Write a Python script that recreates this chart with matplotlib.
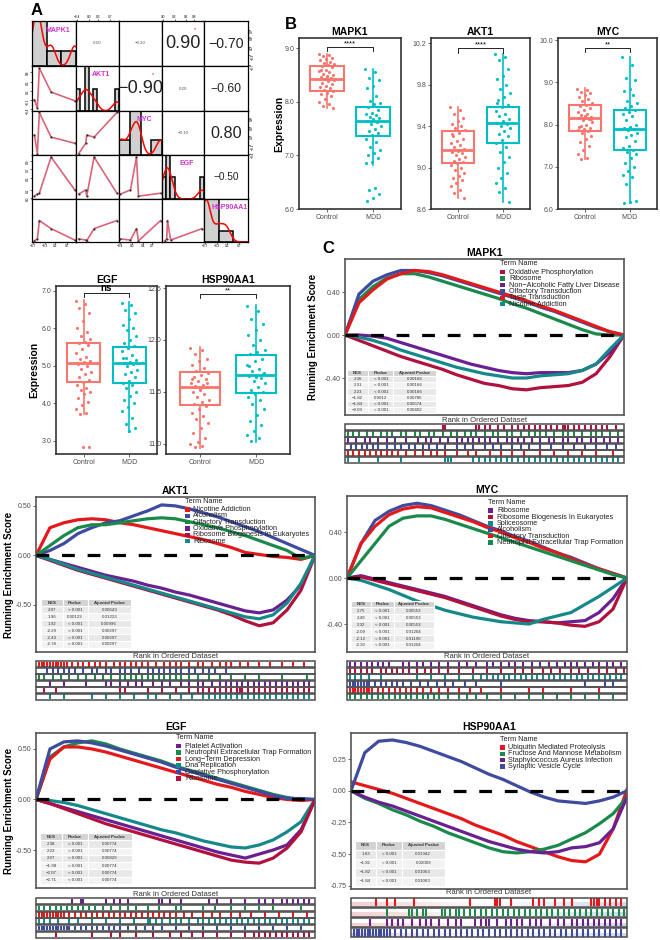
"""
Hub-gene figure: correlation matrix (A), expression boxplots (B) and GSEA
running enrichment curves (C) for MAPK1 / AKT1 / MYC / EGF / HSP90AA1.
"""

import numpy as np
import matplotlib
matplotlib.use('Agg')
import matplotlib.pyplot as plt
from matplotlib.patches import Rectangle
from matplotlib.colors import LinearSegmentedColormap

plt.rcParams['font.family'] = ['Liberation Sans', 'DejaVu Sans']

# --- PANEL A DATA (5 samples per gene) ---
A_GENES = ['MAPK1', 'AKT1', 'MYC', 'EGF', 'HSP90AA1']
A_MAPK1 = [-0.65, -0.53, -0.45, 0.03, 1.00]
A_AKT1 = [-0.09, -0.36, 0.93, 0.16, -0.12]
A_MYC = [0.23, -0.40, 1.00, 0.16, -0.05]
A_EGF = [0.05, 0.10, 0.12, 1.00, 0.20]
A_HSP = [-0.70, -0.62, 0.15, -0.19, -0.67]
A_LIMS = [(-0.75, 1.05), (-0.45, 1.0), (-0.45, 1.05), (-0.02, 1.05), (-0.75, 1.05)]
A_BINS = [3, 10, 4, 10, 3]
# upper triangle, row-major
CORR_R = [0.10, -0.20, 0.90, -0.70, -0.90, 0.20, -0.60, -0.10, 0.80, -0.50]

# --- PANEL B DATA ---
BOX_GENES = ['MAPK1', 'AKT1', 'MYC', 'EGF', 'HSP90AA1']
CTRL_MED = [8.42, 9.17, 8.16, 5.08, 11.55]
CTRL_Q1 = [8.21, 9.04, 7.85, 4.58, 11.37]
CTRL_Q3 = [8.66, 9.35, 8.46, 5.62, 11.69]
CTRL_LO = [7.88, 8.71, 7.18, 3.73, 10.96]
CTRL_HI = [8.90, 9.58, 8.86, 6.75, 11.93]
MDD_MED = [7.65, 9.43, 7.89, 5.08, 11.66]
MDD_Q1 = [7.36, 9.24, 7.39, 4.55, 11.49]
MDD_Q3 = [7.90, 9.58, 8.34, 5.51, 11.85]
MDD_LO = [6.82, 8.67, 6.15, 3.24, 11.02]
MDD_HI = [8.62, 10.10, 9.60, 6.71, 12.34]
SIG_LABELS = ['****', '****', '**', 'ns', '**']

MAPK1_CTRL = [8.90, 8.88, 8.85, 8.82, 8.80, 8.78, 8.75, 8.72, 8.70, 8.68, 8.66, 8.64, 8.60, 8.57,
              8.55, 8.52, 8.50, 8.48, 8.46, 8.44, 8.42, 8.40, 8.38, 8.35, 8.33, 8.30, 8.27, 8.25,
              8.22, 8.20, 8.17, 8.14, 8.10, 8.05, 8.00, 7.95, 7.92, 7.88, 8.45, 8.60]
MAPK1_MDD = [8.62, 8.55, 8.45, 8.40, 8.30, 8.25, 8.10, 8.02, 7.98, 7.95, 7.90, 7.85, 7.80, 7.78,
             7.75, 7.72, 7.70, 7.67, 7.65, 7.62, 7.58, 7.55, 7.50, 7.45, 7.42, 7.38, 7.30, 7.25,
             7.15, 7.10, 7.05, 7.00, 6.95, 6.88, 6.85, 6.40, 6.35, 6.28, 6.20, 6.15]
AKT1_CTRL = [9.58, 9.56, 9.52, 9.48, 9.45, 9.42, 9.40, 9.38, 9.36, 9.33, 9.30, 9.28, 9.26, 9.24,
             9.22, 9.20, 9.18, 9.17, 9.15, 9.14, 9.12, 9.10, 9.08, 9.06, 9.05, 9.04, 9.02, 9.00,
             8.98, 8.95, 8.92, 8.90, 8.88, 8.85, 8.82, 8.78, 8.75, 8.71, 9.16, 9.32]
AKT1_MDD = [10.10, 10.07, 10.04, 9.95, 9.88, 9.85, 9.80, 9.76, 9.72, 9.68, 9.65, 9.60, 9.58, 9.55,
            9.52, 9.50, 9.47, 9.45, 9.43, 9.42, 9.40, 9.38, 9.35, 9.32, 9.30, 9.27, 9.24, 9.20,
            9.15, 9.10, 9.05, 9.00, 8.95, 8.90, 8.85, 8.80, 8.76, 8.67, 9.44, 9.62]
MYC_CTRL = [8.85, 8.82, 8.78, 8.75, 8.70, 8.65, 8.60, 8.55, 8.50, 8.47, 8.44, 8.40, 8.35, 8.30,
            8.26, 8.22, 8.18, 8.16, 8.15, 8.12, 8.10, 8.05, 8.00, 7.97, 7.93, 7.90, 7.88, 7.85,
            7.80, 7.72, 7.65, 7.58, 7.50, 7.40, 7.30, 7.20, 7.18, 8.13, 8.20, 7.95]
MYC_MDD = [9.60, 9.40, 9.10, 9.05, 8.85, 8.80, 8.70, 8.55, 8.50, 8.45, 8.40, 8.35, 8.30, 8.25,
           8.20, 8.10, 8.00, 7.95, 7.92, 7.90, 7.88, 7.80, 7.75, 7.70, 7.60, 7.50, 7.45, 7.40,
           7.35, 7.30, 7.20, 7.10, 7.00, 6.90, 6.80, 6.75, 6.60, 6.20, 6.17, 6.15]
EGF_CTRL = [6.72, 6.65, 6.55, 6.40, 6.20, 6.00, 5.90, 5.80, 5.72, 5.65, 5.60, 5.55, 5.45, 5.35,
            5.25, 5.18, 5.12, 5.10, 5.05, 5.00, 4.92, 4.85, 4.78, 4.70, 4.62, 4.58, 4.50, 4.42,
            4.35, 4.30, 4.25, 4.15, 4.05, 3.95, 3.85, 3.75, 3.73, 2.85, 2.85, 5.08]
EGF_MDD = [6.68, 6.62, 6.50, 6.40, 6.25, 6.10, 6.00, 5.95, 5.80, 5.70, 5.60, 5.52, 5.48, 5.40,
           5.30, 5.22, 5.15, 5.10, 5.08, 5.05, 5.00, 4.90, 4.85, 4.78, 4.70, 4.60, 4.55, 4.50,
           4.40, 4.30, 4.20, 4.10, 4.00, 3.90, 3.80, 3.60, 3.45, 3.35, 3.26, 5.20]
HSP_CTRL = [11.92, 11.90, 11.86, 11.82, 11.80, 11.76, 11.73, 11.70, 11.68, 11.66, 11.64, 11.62,
            11.60, 11.58, 11.57, 11.56, 11.55, 11.53, 11.50, 11.48, 11.45, 11.42, 11.40, 11.38,
            11.36, 11.33, 11.30, 11.27, 11.24, 11.20, 11.15, 11.10, 11.05, 11.02, 11.00, 10.98,
            10.97, 11.58, 11.52, 11.62]
HSP_MDD = [12.33, 12.28, 12.20, 12.15, 12.10, 12.05, 12.00, 11.95, 11.90, 11.88, 11.86, 11.82,
           11.80, 11.76, 11.72, 11.70, 11.68, 11.66, 11.65, 11.63, 11.60, 11.58, 11.55, 11.52,
           11.50, 11.48, 11.45, 11.42, 11.38, 11.33, 11.28, 11.22, 11.18, 11.12, 11.08, 11.05,
           11.03, 11.67, 11.64, 11.75]

# --- PANEL C DATA ---
RANK_X = np.linspace(0, 1, 21)   # running-score sample positions along the ranked list

C_RED, C_CRIM, C_GREEN = '#E4191C', '#B0123D', '#1A8A4C'
C_PURP, C_BLUE, C_TEAL = '#6A2090', '#3F4B9E', '#15898A'

MAPK1_TERMS = ['Oxidative Phosphorylation', 'Ribosome', 'Non\u2212Alcoholic Fatty Liver Disease',
               'Olfactory Transduction', 'Taste Transduction', 'Nicotine Addiction']
MAPK1_COLORS = [C_CRIM, C_GREEN, C_PURP, C_BLUE, C_RED, C_TEAL]
MAPK1_ES = [
    [0, -0.05, -0.10, -0.15, -0.20, -0.24, -0.28, -0.32, -0.37, -0.41, -0.45, -0.47, -0.50, -0.51, -0.49, -0.48, -0.47, -0.44, -0.36, -0.20, 0],
    [0, 0.33, 0.45, 0.53, 0.57, 0.57, 0.54, 0.50, 0.46, 0.42, 0.38, 0.34, 0.29, 0.25, 0.20, 0.15, 0.10, 0.05, 0.01, 0.00, 0],
    [0, 0, -0.01, -0.03, -0.07, -0.11, -0.15, -0.19, -0.23, -0.27, -0.30, -0.33, -0.35, -0.36, -0.35, -0.35, -0.35, -0.33, -0.27, -0.16, 0],
    [0, 0.38, 0.50, 0.56, 0.60, 0.60, 0.58, 0.55, 0.51, 0.47, 0.43, 0.39, 0.35, 0.31, 0.26, 0.22, 0.17, 0.12, 0.07, 0.03, 0],
    [0, 0.30, 0.42, 0.52, 0.57, 0.60, 0.59, 0.56, 0.52, 0.48, 0.44, 0.40, 0.36, 0.32, 0.27, 0.23, 0.18, 0.13, 0.08, 0.03, 0],
    [0, -0.02, -0.05, -0.09, -0.14, -0.18, -0.22, -0.26, -0.30, -0.33, -0.36, -0.38, -0.40, -0.40, -0.38, -0.37, -0.36, -0.33, -0.27, -0.13, 0],
]
MAPK1_NES = ['2.36', '2.31', '2.23', '\u22121.82', '\u22121.84', '\u22122.03']
MAPK1_P = ['< 0.001', '< 0.001', '< 0.001', '0.0012', '< 0.001', '< 0.001']
MAPK1_PADJ = ['0.00166', '0.00166', '0.00166', '0.00785', '0.00574', '0.00402']
MAPK1_HITS = [
    [35, 36, 47, 48, 50, 52, 55, 57, 60, 62, 64, 66, 68, 70, 72, 74, 76, 78, 79, 80, 82, 84, 86, 88, 90, 92, 94, 97],
    [1, 3, 5, 8, 10, 13, 15, 17, 20, 22, 25, 27, 30, 32, 35, 38, 40, 43, 45, 47, 50, 53, 55, 58, 60, 63, 66, 68, 70, 72, 75, 78, 80, 82, 85, 88, 90, 92, 95, 98],
    [1, 4, 7, 9, 12, 15, 18, 22, 26, 29, 31, 34, 37, 40, 42, 44, 46, 48, 50, 52, 55, 58, 60, 62, 64, 67, 70, 73, 75, 78, 80, 83, 85, 88, 90, 93, 95, 98],
    [2, 4, 6, 8, 10, 12, 15, 18, 20, 23, 25, 28, 30, 33, 36, 40, 43, 46, 50, 53, 56, 60, 63, 66, 70, 74, 78, 82, 86, 90, 94, 97],
    [1, 3, 5, 7, 9, 11, 13, 15, 17, 19, 22, 25, 28, 31, 33, 36, 40, 44, 47, 52, 56, 60, 64, 70, 75, 80, 85, 90, 96],
    [1, 5, 12, 20, 36, 37, 38, 46, 48, 50, 52, 54, 56, 58, 60, 62, 64, 66, 68, 70, 72, 74, 76, 78, 80, 82, 84, 86, 88, 90, 92, 94, 96, 98],
]

AKT1_TERMS = ['Nicotine Addiction', 'Alcoholism', 'Olfactory Transduction', 'Oxidative Phosphorylation',
              'Ribosome Biogenesis In Eukaryotes', 'Ribosome']
AKT1_COLORS = [C_RED, C_BLUE, C_GREEN, C_PURP, C_CRIM, C_TEAL]
AKT1_ES = [
    [0, 0.28, 0.33, 0.36, 0.37, 0.36, 0.33, 0.31, 0.28, 0.25, 0.22, 0.19, 0.16, 0.12, 0.08, 0.03, 0.01, -0.01, -0.02, -0.04, 0],
    [0, 0.05, 0.12, 0.22, 0.28, 0.33, 0.35, 0.40, 0.45, 0.51, 0.50, 0.47, 0.43, 0.39, 0.34, 0.29, 0.24, 0.18, 0.12, 0.06, 0],
    [0, 0.10, 0.20, 0.28, 0.31, 0.31, 0.33, 0.35, 0.37, 0.38, 0.37, 0.34, 0.31, 0.28, 0.24, 0.20, 0.15, 0.10, 0.05, -0.03, 0],
    [0, -0.04, -0.08, -0.12, -0.16, -0.20, -0.23, -0.26, -0.30, -0.33, -0.37, -0.40, -0.44, -0.48, -0.52, -0.56, -0.58, -0.55, -0.45, -0.30, 0],
    [0, -0.05, -0.10, -0.15, -0.19, -0.23, -0.27, -0.31, -0.35, -0.39, -0.43, -0.47, -0.51, -0.55, -0.60, -0.66, -0.71, -0.68, -0.55, -0.35, 0],
    [0, -0.04, -0.09, -0.14, -0.18, -0.22, -0.26, -0.30, -0.34, -0.38, -0.42, -0.46, -0.50, -0.54, -0.58, -0.62, -0.64, -0.60, -0.48, -0.28, 0],
]
AKT1_NES = ['2.07', '1.96', '1.92', '-2.29', '-2.43', '-2.78']
AKT1_P = ['< 0.001', '0.00123', '< 0.001', '< 0.001', '< 0.001', '< 0.001']
AKT1_PADJ = ['0.00643', '0.01223', '0.00996', '0.00297', '0.00297', '0.00297']
AKT1_HITS = [
    [1, 2, 3, 4, 5, 6, 7, 8, 9, 10, 11, 13, 15, 17, 19, 21, 23, 25, 28, 30, 32, 34, 36, 38, 40, 43, 46, 48, 50, 52, 55, 58, 60, 63, 66, 68, 70, 73, 76, 80, 84, 88, 92, 96],
    [4, 6, 8, 10, 12, 14, 17, 20, 22, 25, 27, 30, 32, 34, 37, 40, 42, 44, 46, 48, 50, 52, 55, 57, 60, 62, 64, 68],
    [1, 3, 6, 9, 12, 15, 18, 21, 24, 27, 30, 32, 34, 36, 38, 40, 42, 44, 46, 48, 50, 52, 55, 58, 62, 66, 70, 75, 80, 88, 97],
    [5, 10, 18, 25, 27, 30, 33, 36, 38, 42, 45, 48, 52, 55, 58, 60, 63, 66, 68, 70, 72, 74, 76, 78, 80, 82, 84, 86, 88, 90, 92, 94, 96, 98],
    [3, 7, 30, 32, 40, 45, 50, 55, 58, 60, 62, 64, 66, 68, 70, 72, 73, 74, 76, 78, 80, 82, 84, 86, 88, 90, 92, 94, 96, 98],
    [5, 10, 20, 25, 30, 35, 40, 43, 48, 52, 56, 60, 62, 64, 66, 68, 70, 72, 74, 76, 78, 80, 82, 84, 86, 88, 90, 92, 94, 96, 98],
]

MYC_TERMS = ['Ribosome', 'Ribosome Biogenesis In Eukaryotes', 'Spliceosome', 'Alcoholism',
             'Olfactory Transduction', 'Neutrophil Extracellular Trap Formation']
MYC_COLORS = [C_PURP, C_CRIM, C_TEAL, C_BLUE, C_RED, C_GREEN]
MYC_ES = [
    [0, 0.02, -0.01, -0.04, -0.07, -0.10, -0.13, -0.16, -0.20, -0.24, -0.28, -0.32, -0.35, -0.37, -0.38, -0.39, -0.38, -0.37, -0.30, -0.18, 0],
    [0, 0.01, -0.02, -0.05, -0.08, -0.11, -0.14, -0.17, -0.21, -0.25, -0.29, -0.33, -0.36, -0.38, -0.38, -0.39, -0.41, -0.42, -0.38, -0.27, 0],
    [0, -0.02, -0.06, -0.10, -0.15, -0.20, -0.24, -0.28, -0.31, -0.34, -0.36, -0.38, -0.39, -0.40, -0.36, -0.33, -0.30, -0.23, -0.16, -0.08, 0],
    [0, 0.30, 0.50, 0.58, 0.63, 0.65, 0.63, 0.59, 0.55, 0.50, 0.45, 0.41, 0.36, 0.32, 0.27, 0.22, 0.18, 0.13, 0.08, 0.04, 0],
    [0, 0.30, 0.45, 0.55, 0.60, 0.62, 0.61, 0.57, 0.53, 0.49, 0.44, 0.40, 0.35, 0.31, 0.26, 0.22, 0.17, 0.12, 0.08, 0.04, 0],
    [0, 0.15, 0.30, 0.45, 0.52, 0.54, 0.54, 0.51, 0.47, 0.43, 0.39, 0.35, 0.31, 0.27, 0.23, 0.19, 0.15, 0.11, 0.07, 0.03, 0],
]
MYC_NES = ['2.75', '2.49', '2.32', '-2.09', '-2.12', '-2.30']
MYC_P = ['< 0.001'] * 6
MYC_PADJ = ['0.00553', '0.00553', '0.00553', '0.01204', '0.01190', '0.01204']
MYC_HITS = [
    [1, 3, 5, 7, 9, 11, 13, 15, 20, 22, 25, 27, 30, 33, 36, 40, 43, 46, 50, 52, 55, 58, 60, 63, 66, 69, 72, 75, 78, 80, 82, 85, 88, 90, 93, 95, 98],
    [1, 3, 5, 7, 9, 12, 14, 16, 18, 20, 22, 25, 28, 30, 33, 36, 40, 45, 50, 55, 60, 63, 66, 70, 73, 76, 80, 83, 86, 90, 93, 96, 99],
    [1, 3, 5, 8, 12, 25, 30, 35, 40, 45, 48, 50, 52, 54, 56, 58, 60, 62, 64, 66, 68, 70, 72, 74, 76, 78, 80, 82, 84, 86, 88, 90, 92, 94, 96, 98],
    [1, 2, 3, 4, 5, 6, 7, 8, 10, 12, 14, 16, 18, 20, 23, 26, 29, 32, 35, 38, 42, 46, 55, 85, 92, 95],
    [1, 2, 3, 4, 5, 6, 7, 8, 9, 11, 13, 15, 17, 19, 21, 23, 25, 27, 30, 33, 36, 40, 44, 48, 55, 65, 70, 80, 90],
    [1, 3, 5, 7, 9, 11, 13, 15, 17, 19, 21, 23, 25, 27, 29, 31, 33, 36, 40, 43, 46, 50, 55, 60, 65, 70, 75, 80, 85, 90, 95],
]

EGF_TERMS = ['Platelet Activation', 'Neutrophil Extracellular Trap Formation', 'Long\u2212Term Depression',
             'Dna Replication', 'Oxidative Phosphorylation', 'Ribosome']
EGF_COLORS = [C_PURP, C_GREEN, C_RED, C_TEAL, C_BLUE, C_CRIM]
EGF_ES = [
    [0, -0.04, -0.08, -0.12, -0.16, -0.20, -0.24, -0.28, -0.32, -0.36, -0.40, -0.44, -0.48, -0.52, -0.55, -0.58, -0.54, -0.50, -0.45, -0.30, 0],
    [0, 0.42, 0.52, 0.56, 0.58, 0.55, 0.50, 0.46, 0.42, 0.38, 0.33, 0.29, 0.25, 0.21, 0.17, 0.13, 0.09, 0.05, 0.02, 0.00, 0],
    [0, 0.40, 0.52, 0.52, 0.50, 0.47, 0.43, 0.39, 0.35, 0.31, 0.27, 0.23, 0.19, 0.15, 0.12, 0.08, 0.05, 0.02, 0.00, -0.01, 0],
    [0, -0.01, -0.03, -0.06, -0.10, -0.14, -0.18, -0.22, -0.26, -0.30, -0.33, -0.37, -0.41, -0.44, -0.47, -0.48, -0.45, -0.40, -0.32, -0.22, 0],
    [0, 0.50, 0.57, 0.58, 0.56, 0.53, 0.49, 0.45, 0.41, 0.37, 0.32, 0.28, 0.24, 0.20, 0.16, 0.12, 0.08, 0.04, 0.01, 0.01, 0],
    [0, -0.04, -0.09, -0.14, -0.19, -0.24, -0.28, -0.32, -0.36, -0.40, -0.44, -0.48, -0.52, -0.56, -0.60, -0.62, -0.63, -0.58, -0.48, -0.32, 0],
]
EGF_NES = ['2.38', '2.23', '2.07', '\u22121.98', '\u22122.07', '\u22122.71']
EGF_P = ['< 0.001'] * 6
EGF_PADJ = ['0.00774', '0.00774', '0.00829', '0.00774', '0.00774', '0.00774']
EGF_HITS = [
    [13, 16, 17, 25, 28, 30, 33, 44, 45, 48, 52, 62, 65, 70, 75, 80, 82, 85, 88, 90, 92, 94, 96, 98],
    [1, 3, 5, 7, 9, 11, 13, 15, 17, 19, 21, 24, 27, 30, 33, 36, 40, 44, 50, 52, 60, 64, 70, 75, 80, 85, 95],
    [1, 2, 3, 4, 5, 6, 7, 8, 9, 10, 12, 14, 16, 18, 20, 22, 24, 26, 28, 30, 32, 34, 36, 38, 40, 42, 44, 46, 48, 50, 53, 56, 60, 63, 66, 70, 73, 77, 82, 87, 92, 97],
    [1, 3, 5, 8, 12, 15, 20, 25, 30, 35, 40, 41, 43, 45, 48, 50, 52, 55, 58, 60, 62, 64, 66, 68, 70, 72, 74, 76, 78, 80, 82, 84, 86, 88, 90, 92, 94, 96, 98],
    [1, 2, 3, 4, 5, 6, 7, 8, 9, 10, 11, 12, 14, 16, 18, 20, 22, 24, 26, 28, 30, 33, 36, 39, 42, 45, 50, 55, 60, 65, 70, 75, 80, 85, 90, 95],
    [7, 20, 27, 30, 36, 42, 48, 52, 56, 60, 65, 70, 75, 78, 80, 82, 84, 86, 88, 90, 92, 94, 96, 98],
]

HSP_TERMS = ['Ubiquitin Mediated Proteolysis', 'Fructose And Mannose Metabolism',
             'Staphylococcus Aureus Infection', 'Synaptic Vesicle Cycle']
HSP_COLORS = [C_RED, C_GREEN, C_PURP, C_BLUE]
HSP_ES = [
    [0.07, 0.04, 0.01, -0.02, -0.06, -0.10, -0.14, -0.18, -0.22, -0.27, -0.31, -0.35, -0.40, -0.44, -0.48, -0.52, -0.55, -0.56, -0.50, -0.30, 0.01],
    [0, -0.06, -0.10, -0.15, -0.19, -0.24, -0.28, -0.33, -0.37, -0.41, -0.45, -0.48, -0.49, -0.48, -0.46, -0.43, -0.38, -0.33, -0.26, -0.18, -0.05],
    [0, -0.05, -0.09, -0.12, -0.16, -0.20, -0.24, -0.28, -0.32, -0.36, -0.40, -0.43, -0.46, -0.48, -0.49, -0.48, -0.45, -0.44, -0.41, -0.30, -0.05],
    [0, 0.30, 0.39, 0.40, 0.38, 0.35, 0.31, 0.27, 0.23, 0.18, 0.13, 0.09, 0.04, -0.01, -0.05, -0.08, -0.09, -0.10, -0.08, -0.05, 0],
]
HSP_NES = ['1.63', '\u22121.81', '\u22121.82', '\u22121.84']
HSP_P = ['< 0.001'] * 4
HSP_PADJ = ['0.01342', '0.02009', '0.01063', '0.01063']
HSP_HITS = [
    [9, 13, 16, 23, 43, 52, 53, 54, 58, 66, 68, 70, 74, 77, 80, 87, 88, 89, 90, 92, 94, 96, 98],
    [13, 21, 22, 24, 26, 27, 33, 34, 36, 38, 39, 41, 43, 45, 47, 49, 51, 53, 55, 57, 59, 61, 63, 65, 67, 69, 71, 73, 75, 77, 79, 81, 83, 85, 87, 89, 91, 93, 95, 97, 99],
    [7, 13, 15, 17, 19, 22, 25, 27, 29, 32, 35, 38, 40, 45, 47, 49, 50, 53, 56, 58, 60, 62, 65, 67, 69, 72, 75, 77, 80, 82, 84, 86, 88, 90, 92, 94, 96, 98],
    [1, 2, 3, 4, 5, 6, 7, 8, 9, 10, 11, 12, 13, 14, 16, 18, 20, 22, 24, 26, 28, 30, 32, 34, 36, 38, 40, 42, 44, 46, 48, 50, 52, 54, 56, 58, 60, 62, 64, 66, 68, 70, 72, 74, 76, 78, 80, 82, 84, 86, 88, 90, 92, 94, 96, 98],
]

CTRL_COLOR = '#F8766D'
MDD_COLOR = '#00BFC4'
TICK_GRAY = '#4D4D4D'
FRAME = '#333333'

W, H = 660, 940
fig = plt.figure(figsize=(W / 100, H / 100), dpi=100)


def add_px(x0, y0, x1, y1):
    """Axes from pixel box (top-left origin)."""
    return fig.add_axes([x0 / W, 1 - y1 / H, (x1 - x0) / W, (y1 - y0) / H])


def fmt_minus(s):
    return s.replace('-', '\u2212')


# ---------------- PANEL A: correlation matrix ----------------
A_COLS = [32, 76, 119, 162, 204, 248]
A_ROWS = [21, 66, 111, 155, 199, 242]
a_vals = [np.array(v) for v in (A_MAPK1, A_AKT1, A_MYC, A_EGF, A_HSP)]
k = 0
for i in range(5):
    for j in range(5):
        ax = add_px(A_COLS[j], A_ROWS[i], A_COLS[j + 1], A_ROWS[i + 1])
        ax.set_xticks([])
        ax.set_yticks([])
        for sp in ax.spines.values():
            sp.set_linewidth(0.9)
            sp.set_color('black')
        if i == j:
            v = a_vals[i]
            lo, hi = A_LIMS[i]
            counts, edges = np.histogram(v, bins=A_BINS[i], range=(lo, hi))
            ax.bar(edges[:-1], counts, width=np.diff(edges), align='edge',
                   color='#D0D0D0', edgecolor='black', linewidth=1.1)
            grid = np.linspace(lo, hi, 200)
            bw = 0.1 * (hi - lo)
            dens = np.exp(-0.5 * ((grid[:, None] - v[None, :]) / bw) ** 2).sum(1) / (bw * np.sqrt(2 * np.pi))
            ax.plot(grid, dens * np.diff(edges)[0], color='red', linewidth=1.1)
            ax.set_xlim(lo, hi)
            ax.set_ylim(0, counts.max() * 1.0)
            ax.text(0.58, 0.8, A_GENES[i], transform=ax.transAxes, ha='center', va='center',
                    fontsize=5.0, color='#CC33CC', fontweight='bold')
        elif i > j:
            x, y = a_vals[j], a_vals[i]
            order = np.argsort(x)
            ax.plot(x[order], y[order], color='#D6546A', linewidth=1.2, alpha=0.9)
            ax.scatter(x, y, s=2.5, color='#333333', zorder=3, linewidths=0)
            ax.set_xlim(*A_LIMS[j])
            ax.set_ylim(*A_LIMS[i])
        else:
            r = CORR_R[k]
            k += 1
            size = max(3.2, 14.5 * abs(r))
            ax.text(0.5, 0.5, fmt_minus(f'{r:.2f}'), transform=ax.transAxes, ha='center', va='center',
                    fontsize=size, color='#222222' if abs(r) >= 0.5 else '#555555')
            if abs(r) >= 0.9:
                ax.text(0.78, 0.82, '*', transform=ax.transAxes, ha='center', va='center',
                        fontsize=4, color='red')
            ax.set_xlim(*A_LIMS[j])
            ax.set_ylim(*A_LIMS[i])
        # outer tick labels like the pairs plot
        tk = dict(labelsize=2.3, length=1.2, width=0.4, pad=0.5)
        if i == 0 and j in (1, 3):
            ax.xaxis.tick_top()
            ax.set_xticks(np.round(np.linspace(*A_LIMS[j], 5)[:-1] + 0.05, 1))
            ax.tick_params(axis='x', **tk)
        if i == 4 and j in (0, 2, 4):
            ax.set_xticks(np.round(np.linspace(*A_LIMS[j], 5)[:-1] + 0.05, 1))
            ax.tick_params(axis='x', **tk)
        if j == 0 and i in (1, 3):
            ax.set_yticks(np.round(np.linspace(*A_LIMS[i], 6)[:-1] + 0.05, 1))
            ax.tick_params(axis='y', rotation=90, **tk)
        if j == 4 and i in (0, 2) and i != j:
            ax.yaxis.tick_right()
            ax.set_yticks(np.round(np.linspace(*A_LIMS[i], 6)[:-1] + 0.05, 1))
            ax.tick_params(axis='y', rotation=90, **tk)
fig.text(31 / W, 1 - 3 / H, 'A', fontsize=12, fontweight='bold', va='top', ha='left')


# ---------------- PANEL B: boxplots ----------------
def draw_box(ax, gi, ctrl, mdd, ylim, yticks, sig_y, ylabel=None, ylabel_x=-0.2):
    stats = [dict(med=CTRL_MED[gi], q1=CTRL_Q1[gi], q3=CTRL_Q3[gi],
                  whislo=CTRL_LO[gi], whishi=CTRL_HI[gi], fliers=[]),
             dict(med=MDD_MED[gi], q1=MDD_Q1[gi], q3=MDD_Q3[gi],
                  whislo=MDD_LO[gi], whishi=MDD_HI[gi], fliers=[])]
    bp = ax.bxp(stats, positions=[1, 2], widths=0.72, showfliers=False, showcaps=False,
                patch_artist=True)
    for n, col in enumerate([CTRL_COLOR, MDD_COLOR]):
        bp['boxes'][n].set(facecolor='white', edgecolor=col, linewidth=1.5)
        bp['medians'][n].set(color=col, linewidth=2.0)
        for w in bp['whiskers'][2 * n:2 * n + 2]:
            w.set(color=col, linewidth=1.2)
    for n, (pts, col) in enumerate([(ctrl, CTRL_COLOR), (mdd, MDD_COLOR)]):
        off = ((np.arange(len(pts)) * 0.618034) % 1 - 0.5) * 0.34
        ax.scatter(n + 1 + off, pts, s=5, color=col, linewidths=0, zorder=3)
    ax.set_xlim(0.4, 2.6)
    ax.set_ylim(*ylim)
    ax.set_yticks(yticks)
    ax.set_yticklabels([f'{t:.1f}' for t in yticks])
    ax.set_xticks([1, 2])
    ax.set_xticklabels(['Control', 'MDD'])
    ax.tick_params(labelsize=5, colors=TICK_GRAY, length=2, width=0.6, pad=1.5)
    for sp in ax.spines.values():
        sp.set_color(FRAME)
        sp.set_linewidth(1.2)
    ax.set_title(BOX_GENES[gi], fontsize=7.5, fontweight='bold', pad=2)
    d = 0.025 * (ylim[1] - ylim[0])
    ax.plot([1, 1, 2, 2], [sig_y - d, sig_y, sig_y, sig_y - d], color='black', linewidth=0.6)
    lab = SIG_LABELS[gi]
    ax.text(1.5, sig_y, lab, ha='center', va='bottom', fontsize=7 if lab == 'ns' else 5.5,
            fontweight='bold' if lab == 'ns' else 'normal')
    if ylabel:
        ax.set_ylabel(ylabel, fontsize=7.5, fontweight='bold')
        ax.yaxis.set_label_coords(ylabel_x, 0.5)


draw_box(add_px(299, 38, 401, 209), 0, MAPK1_CTRL, MAPK1_MDD, (6.0, 9.19),
         [6.0, 7.0, 8.0, 9.0], 9.02, 'Expression', -0.147)
draw_box(add_px(431, 38, 530, 209), 1, AKT1_CTRL, AKT1_MDD, (8.6, 10.25),
         [8.6, 9.0, 9.4, 9.8, 10.2], 10.15)
draw_box(add_px(558, 38, 657, 209), 2, MYC_CTRL, MYC_MDD, (6.0, 10.05),
         [6.0, 7.0, 8.0, 9.0, 10.0], 9.81)
draw_box(add_px(56, 286, 157, 454), 3, EGF_CTRL, EGF_MDD, (2.65, 7.13),
         [3.0, 4.0, 5.0, 6.0, 7.0], 6.95, 'Expression', -0.168)
draw_box(add_px(166, 286, 290, 454), 4, HSP_CTRL, HSP_MDD, (10.9, 12.52),
         [11.0, 11.5, 12.0, 12.5], 12.44)
fig.text(285 / W, 1 - 17 / H, 'B', fontsize=12, fontweight='bold', va='top', ha='left')


# ---------------- PANEL C: GSEA ----------------
def draw_gsea(box, bar_box, title, terms, colors, curves, ylim, yticks, nes, pv, padj,
              tbl_bbox, leg, hits, ylabel_x=None, shade=False):
    ax = add_px(*box)
    for es, col in zip(curves, colors):
        ax.plot(RANK_X, es, color=col, linewidth=2.3, solid_joinstyle='round', zorder=2)
    ax.axhline(0, color='black', linewidth=2.3, dashes=(4, 4), zorder=3)
    ax.set_xlim(0, 1)
    ax.set_ylim(*ylim)
    ax.set_xticks([])
    ax.set_yticks(yticks)
    ax.set_yticklabels([f'{t:.2f}' for t in yticks])
    ax.tick_params(axis='y', labelsize=5, colors=TICK_GRAY, length=2, width=0.6, pad=1)
    for sp in ax.spines.values():
        sp.set_color('#555555')
        sp.set_linewidth(1.2)
    ax.set_title(title, fontsize=7.5, fontweight='bold', pad=2)
    if ylabel_x is not None:
        ax.set_ylabel('Running Enrichment Score', fontsize=7, fontweight='bold')
        ax.yaxis.set_label_coords(ylabel_x, 0.5)

    # legend drawn by hand so entries can sit as tight as the original
    lx, ly_title, ly0, step, tx = leg
    ax.text(lx, ly_title, 'Term Name', transform=ax.transAxes, fontsize=5.2, va='center',
            ha='left', color='#222222', zorder=5)
    for n, (t, c) in enumerate(zip(terms, colors)):
        y = ly0 - n * step
        ax.add_patch(Rectangle((lx, y - 0.014), 0.018, 0.028, transform=ax.transAxes,
                               facecolor=c, edgecolor='none', zorder=4))
        ax.text(tx, y, t, transform=ax.transAxes, fontsize=5.2, va='center', ha='left',
                color='#222222', zorder=5)

    tbl = ax.table(cellText=[list(r) for r in zip(nes, pv, padj)],
                   colLabels=['NES', 'Pvalue', 'Ajusted Pvalue'], cellLoc='center',
                   bbox=tbl_bbox, colWidths=[0.24, 0.28, 0.48])
    tbl.auto_set_font_size(False)
    tbl.set_fontsize(3.2)
    tbl.set_zorder(6)
    for (r, c), cell in tbl.get_celld().items():
        cell.set_edgecolor('white')
        cell.set_linewidth(0.8)
        cell.get_text().set_color('#333333')
        if r == 0:
            cell.set_facecolor('#D3D3D3')
            cell.get_text().set_fontweight('bold')
        else:
            cell.set_facecolor('#E8E8E8' if r % 2 == 1 else '#F3F3F3')

    bax = add_px(*bar_box)
    nrow = len(hits)
    if shade:
        cmap = LinearSegmentedColormap.from_list('shade', ['#E9A9A9', '#FFFFFF', '#A9BEDF'])
        grad = np.linspace(0, 1, 256)[None, :]
        for n in range(nrow):
            y0 = nrow - 1 - n
            bax.imshow(grad, extent=(0, 1, y0 + 0.12, y0 + 0.5), cmap=cmap, aspect='auto',
                       alpha=0.55, zorder=1)
    for n, (h, c) in enumerate(zip(hits, colors)):
        y0 = nrow - 1 - n
        bax.add_patch(Rectangle((0, y0 + 0.05), 1, 0.9, facecolor='none', edgecolor='#4D4D4D',
                                linewidth=1.1, clip_on=False, zorder=3))
        bax.vlines(np.array(h) / 100, y0 + 0.14, y0 + 0.86, colors=c, linewidth=1.5, zorder=2)
    bax.set_xlim(0, 1)
    bax.set_ylim(0, nrow)
    bax.axis('off')
    fig.text((bar_box[0] + bar_box[2]) / 2 / W, 1 - (bar_box[1] - 0.5) / H,
             'Rank in Ordered Dataset', ha='center', va='bottom', fontsize=5.5, color='#333333')


draw_gsea((345, 259, 624, 415), (345, 424, 624, 463), 'MAPK1', MAPK1_TERMS, MAPK1_COLORS,
          MAPK1_ES, (-0.744, 0.707), [-0.4, 0.0, 0.4], MAPK1_NES, MAPK1_P, MAPK1_PADJ,
          [0.007, 0.013, 0.32, 0.275], (0.556, 0.968, 0.915, 0.041, 0.588), MAPK1_HITS,
          ylabel_x=-0.097)
draw_gsea((36, 497, 315, 652), (36, 661, 315, 700), 'AKT1', AKT1_TERMS, AKT1_COLORS,
          AKT1_ES, (-0.975, 0.59), [-0.5, 0.0, 0.5], AKT1_NES, AKT1_P, AKT1_PADJ,
          [0.018, 0.026, 0.322, 0.314], (0.534, 0.968, 0.92, 0.041, 0.563), AKT1_HITS,
          ylabel_x=-0.079)
draw_gsea((347, 496, 627, 652), (347, 661, 627, 700), 'MYC', MYC_TERMS, MYC_COLORS,
          MYC_ES, (-0.643, 0.713), [-0.4, 0.0, 0.4], MYC_NES, MYC_P, MYC_PADJ,
          [0.014, 0.02, 0.296, 0.31], (0.503, 0.96, 0.906, 0.041, 0.536), MYC_HITS)
draw_gsea((36, 733, 315, 888), (36, 898, 315, 938), 'EGF', EGF_TERMS, EGF_COLORS,
          EGF_ES, (-0.876, 0.658), [-0.5, 0.0, 0.5], EGF_NES, EGF_P, EGF_PADJ,
          [0.014, 0.026, 0.33, 0.329], (0.502, 0.968, 0.916, 0.042, 0.534), EGF_HITS,
          ylabel_x=-0.079)
draw_gsea((351, 733, 627, 889), (351, 897, 627, 938), 'HSP90AA1', HSP_TERMS, HSP_COLORS,
          HSP_ES, (-0.774, 0.455), [-0.75, -0.5, -0.25, 0.0, 0.25], HSP_NES, HSP_P, HSP_PADJ,
          [0.014, 0.02, 0.326, 0.29], (0.54, 0.96, 0.908, 0.041, 0.568), HSP_HITS, shade=True)
fig.text(322 / W, 1 - 241 / H, 'C', fontsize=12, fontweight='bold', va='top', ha='left')

fig.savefig('out.png', dpi=100, facecolor='white')
